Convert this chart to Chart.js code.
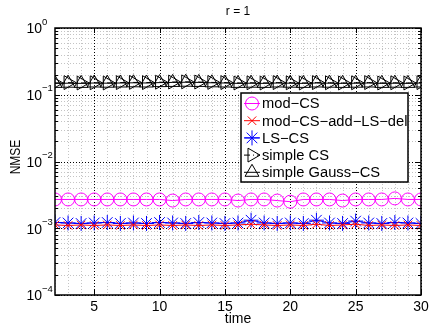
<!DOCTYPE html>
<html>
<head>
<meta charset="utf-8">
<script src="https://cdn.jsdelivr.net/npm/chart.js@4"></script>
<style>
  body { margin: 0; background: #fff; }
  canvas { display: block; }
</style>
</head>
<body>
<canvas id="nmseChart" width="431" height="325"></canvas>
<script>
// time axis
const times = [2, 3, 4, 5, 6, 7, 8, 9, 10, 11, 12, 13, 14, 15, 16, 17, 18, 19, 20, 21, 22, 23, 24, 25, 26, 27, 28, 29, 30];
const xTicks = [5, 10, 15, 20, 25, 30];
const yTickExp = [0, -1, -2, -3, -4];

const modCS = [0.0027, 0.0027, 0.0027, 0.0027, 0.0027, 0.0027, 0.0027, 0.0027, 0.0027, 0.0026, 0.0027, 0.0027, 0.0027, 0.0027, 0.0026, 0.0027, 0.0027, 0.0026, 0.0025, 0.0027, 0.0027, 0.0027, 0.0026, 0.0027, 0.0027, 0.0027, 0.0028, 0.0027, 0.0027];
const modCSaddLSdel = [0.00112, 0.00110, 0.00112, 0.00110, 0.00112, 0.00110, 0.00112, 0.00110, 0.00112, 0.00110, 0.00112, 0.00110, 0.00112, 0.00110, 0.00112, 0.00115, 0.00112, 0.00110, 0.00112, 0.00110, 0.00115, 0.00110, 0.00112, 0.00115, 0.00110, 0.00112, 0.00110, 0.00112, 0.00110];
const lsCS = [0.00122, 0.00120, 0.00118, 0.00120, 0.00122, 0.00118, 0.00120, 0.00118, 0.00122, 0.00120, 0.00118, 0.00122, 0.00120, 0.00118, 0.00120, 0.00132, 0.00120, 0.00118, 0.00120, 0.00118, 0.00132, 0.00120, 0.00118, 0.00128, 0.00120, 0.00118, 0.00122, 0.00120, 0.00118];
const simpleCS = [0.150, 0.152, 0.150, 0.151, 0.150, 0.152, 0.153, 0.152, 0.154, 0.155, 0.156, 0.155, 0.153, 0.152, 0.150, 0.151, 0.150, 0.152, 0.151, 0.150, 0.152, 0.151, 0.150, 0.151, 0.152, 0.150, 0.151, 0.150, 0.152];
const simpleGaussCS = [0.148, 0.149, 0.148, 0.150, 0.149, 0.150, 0.151, 0.150, 0.152, 0.153, 0.154, 0.153, 0.151, 0.150, 0.148, 0.149, 0.148, 0.150, 0.149, 0.148, 0.150, 0.149, 0.148, 0.149, 0.150, 0.148, 0.149, 0.148, 0.150];

const FONT = '"Liberation Sans", Arial, sans-serif';

function pts(vals) {
    return vals.map((v, i) => ({ x: times[i], y: v }));
}

function series(label, vals, color, style, radius, extra) {
    return Object.assign({
        label: label,
        data: pts(vals),
        borderColor: color,
        backgroundColor: 'rgba(0,0,0,0)',
        borderWidth: 1,
        pointStyle: style,
        pointRadius: radius,
        pointBorderColor: color,
        pointBackgroundColor: 'rgba(0,0,0,0)',
        pointBorderWidth: 1,
        tension: 0
    }, extra || {});
}

const datasets = [
    series('mod\u2212CS', modCS, '#ff00ff', 'circle', 6.5),
    series('mod\u2212CS\u2212add\u2212LS\u2212del', modCSaddLSdel, '#ff0000', 'crossRot', 6),
    series('LS\u2212CS', lsCS, '#0000ff', 'star', 7.5),
    series('simple CS', simpleCS, '#000000', 'triangle', 8, { pointRotation: 90, borderDash: [6, 3, 1, 3] }),
    series('simple Gauss\u2212CS', simpleGaussCS, '#000000', 'triangle', 8)
];

// text with an optional horizontal stretch
function txt(ctx, s, x, y, size, sx, align) {
    ctx.save();
    ctx.translate(x, y);
    ctx.scale(sx, 1);
    ctx.font = size + 'px ' + FONT;
    ctx.textAlign = align;
    ctx.textBaseline = 'middle';
    ctx.fillText(s, 0, 0);
    ctx.restore();
}

const frame = {
    id: 'frame',
    beforeDatasetsDraw(chart) {
        const ctx = chart.ctx, a = chart.chartArea;
        const xs = chart.scales.x, ys = chart.scales.y;
        ctx.save();
        ctx.lineWidth = 1;
        ctx.setLineDash([1, 2]);
        // minor grid
        ctx.strokeStyle = '#c4c4c4';
        times.forEach(t => {
            if (xTicks.includes(t)) return;
            const px = Math.round(xs.getPixelForValue(t)) + 0.5;
            ctx.beginPath(); ctx.moveTo(px, a.top); ctx.lineTo(px, a.bottom); ctx.stroke();
        });
        for (let e = -4; e < 0; e++) {
            for (let k = 2; k <= 9; k++) {
                const py = Math.round(ys.getPixelForValue(k * Math.pow(10, e))) + 0.5;
                ctx.beginPath(); ctx.moveTo(a.left, py); ctx.lineTo(a.right, py); ctx.stroke();
            }
        }
        // major grid
        ctx.strokeStyle = '#000';
        xTicks.forEach(t => {
            const px = Math.round(xs.getPixelForValue(t)) + 0.5;
            ctx.beginPath(); ctx.moveTo(px, a.top); ctx.lineTo(px, a.bottom); ctx.stroke();
        });
        yTickExp.forEach(e => {
            const py = Math.round(ys.getPixelForValue(Math.pow(10, e))) + 0.5;
            ctx.beginPath(); ctx.moveTo(a.left, py); ctx.lineTo(a.right, py); ctx.stroke();
        });
        ctx.restore();
    },
    afterDatasetsDraw(chart) {
        const ctx = chart.ctx, a = chart.chartArea;
        const xs = chart.scales.x, ys = chart.scales.y;
        ctx.save();
        ctx.strokeStyle = '#000';
        ctx.lineWidth = 1;
        // tick marks
        ctx.beginPath();
        xTicks.forEach(t => {
            const px = Math.round(xs.getPixelForValue(t)) + 0.5;
            ctx.moveTo(px, a.bottom); ctx.lineTo(px, a.bottom - 5);
            ctx.moveTo(px, a.top); ctx.lineTo(px, a.top + 5);
        });
        yTickExp.forEach(e => {
            const py = Math.round(ys.getPixelForValue(Math.pow(10, e))) + 0.5;
            ctx.moveTo(a.left, py); ctx.lineTo(a.left + 5, py);
            ctx.moveTo(a.right, py); ctx.lineTo(a.right - 5, py);
        });
        for (let e = -4; e < 0; e++) {
            for (let k = 2; k <= 9; k++) {
                const py = Math.round(ys.getPixelForValue(k * Math.pow(10, e))) + 0.5;
                ctx.moveTo(a.left, py); ctx.lineTo(a.left + 3, py);
                ctx.moveTo(a.right, py); ctx.lineTo(a.right - 3, py);
            }
        }
        ctx.stroke();
        // box
        ctx.lineWidth = 1.5;
        ctx.strokeRect(a.left, a.top, a.right - a.left, a.bottom - a.top);

        // tick labels
        ctx.fillStyle = '#000';
        xTicks.forEach(t => {
            txt(ctx, String(t), xs.getPixelForValue(t), a.bottom + 12, 14, 1, 'center');
        });
        yTickExp.forEach(e => {
            const py = ys.getPixelForValue(Math.pow(10, e));
            txt(ctx, '10', 42, py + 1.5, 14, 1, 'right');
            txt(ctx, e === 0 ? '0' : '\u2212' + (-e), 42, py - 6, 9.5, 1, 'left');
        });
        // titles
        const cx = (a.left + a.right) / 2;
        txt(ctx, 'r = 1', cx, 12, 12, 1, 'center');
        txt(ctx, 'time', cx, 319, 14, 1, 'center');
        ctx.save();
        ctx.translate(16, 157);
        ctx.rotate(-Math.PI / 2);
        ctx.scale(1, 1.25);
        ctx.font = '12px ' + FONT;
        ctx.textAlign = 'center';
        ctx.textBaseline = 'middle';
        ctx.fillText('NMSE', 0, 0);
        ctx.restore();

        // legend
        const lx = 241, ly = 93, lw = 167, lh = 89;
        ctx.fillStyle = '#fff';
        ctx.fillRect(lx, ly, lw, lh);
        ctx.lineWidth = 1.5;
        ctx.strokeStyle = '#000';
        ctx.strokeRect(lx, ly, lw, lh);
        ctx.save();
        ctx.beginPath();
        ctx.rect(lx, ly, lw, lh);
        ctx.clip();
        chart.data.datasets.forEach((ds, i) => {
            const cy = 103.5 + i * 17.2;
            const mx = 252;
            ctx.strokeStyle = ds.borderColor;
            ctx.lineWidth = 1;
            ctx.setLineDash(ds.borderDash || []);
            ctx.beginPath(); ctx.moveTo(mx - 8, cy); ctx.lineTo(mx + 8, cy); ctx.stroke();
            ctx.setLineDash([]);
            ctx.fillStyle = 'rgba(0,0,0,0)';
            Chart.helpers.drawPoint(ctx, {
                pointStyle: ds.pointStyle,
                rotation: ds.pointRotation || 0,
                radius: ds.pointRadius,
                borderWidth: 1
            }, mx, cy);
            ctx.fillStyle = '#000';
            txt(ctx, ds.label, 262, cy + 1, 14, 1.05, 'left');
        });
        ctx.restore();
        ctx.restore();
    }
};

new Chart(document.getElementById('nmseChart').getContext('2d'), {
    type: 'line',
    data: { datasets: datasets },
    options: {
        responsive: false,
        devicePixelRatio: 1,
        animation: false,
        layout: { padding: { left: 55, right: 10, top: 28, bottom: 30 } },
        plugins: { legend: { display: false }, title: { display: false }, tooltip: { enabled: false } },
        scales: {
            x: {
                type: 'linear', min: 2, max: 30,
                ticks: { display: false }, grid: { display: false }, border: { display: false },
                afterFit: s => { s.height = 0; }
            },
            y: {
                type: 'logarithmic', min: 1e-4, max: 1,
                ticks: { display: false }, grid: { display: false }, border: { display: false },
                afterFit: s => { s.width = 0; }
            }
        }
    },
    plugins: [frame]
});
</script>
</body>
</html>
